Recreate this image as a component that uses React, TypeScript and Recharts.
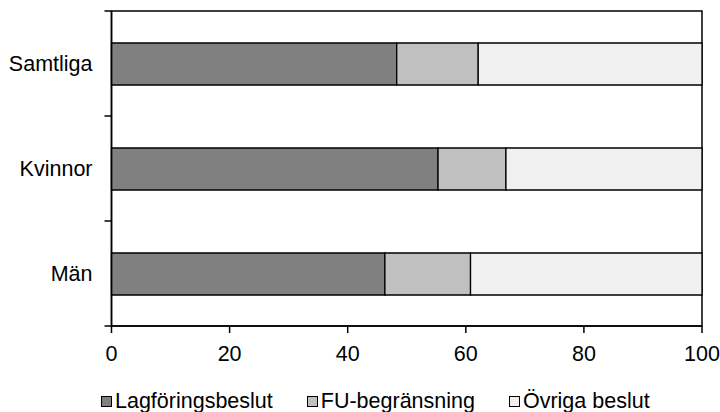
import React from "react";
import { BarChart, Bar, XAxis, YAxis, ReferenceArea } from "recharts";

const categories = ["Samtliga", "Kvinnor", "Män"];
const lagforing = [48.3, 55.3, 46.3];
const fuBegransning = [13.8, 11.5, 14.5];
const ovriga = [37.9, 33.2, 39.2];
const seriesNames = ["Lagföringsbeslut", "FU-begränsning", "Övriga beslut"];
const seriesColors = ["#808080", "#c0c0c0", "#f0f0f0"];
const xTicks = [0, 20, 40, 60, 80, 100];

const data = categories.map((name, i) => ({
  name,
  a: lagforing[i],
  b: fuBegransning[i],
  c: ovriga[i],
}));

const FONT = "'Liberation Sans', Arial, sans-serif";
const FS = 21.5;
const Y_TICK_SIZE = 7;
const Y_TICK_MARGIN = 12;

function CategoryTick(props: any) {
  const { x, y, payload, index, visibleTicksCount } = props;
  const axisX = x + Y_TICK_SIZE + Y_TICK_MARGIN;
  const half = payload && payload.offset ? payload.offset : 0;
  const isLast = index === (visibleTicksCount ?? categories.length) - 1;
  return (
    <g>
      <line
        x1={axisX - Y_TICK_SIZE}
        x2={axisX}
        y1={y - half}
        y2={y - half}
        stroke="#000"
        strokeWidth={1.5}
      />
      {isLast && (
        <line
          x1={axisX - Y_TICK_SIZE}
          x2={axisX}
          y1={y + half}
          y2={y + half}
          stroke="#000"
          strokeWidth={1.5}
        />
      )}
      <text
        x={x}
        y={y}
        dy="0.355em"
        textAnchor="end"
        fill="#000"
        fontSize={FS}
        fontFamily={FONT}
      >
        {payload.value}
      </text>
    </g>
  );
}

export default function App() {
  return (
    <div
      style={{
        position: "absolute",
        left: 0,
        top: 0,
        width: 720,
        height: 412,
        background: "#fff",
        fontFamily: FONT,
      }}
    >
      <BarChart
        width={720}
        height={412}
        data={data}
        layout="vertical"
        margin={{ top: 11, right: 18, bottom: 46, left: 0 }}
      >
        <XAxis
          xAxisId="bottom"
          type="number"
          domain={[0, 100]}
          ticks={xTicks}
          interval={0}
          height={40}
          tickSize={7}
          tickMargin={13}
          axisLine={{ stroke: "#000", strokeWidth: 1.5 }}
          tickLine={{ stroke: "#000", strokeWidth: 1.5 }}
          tick={{ fill: "#000", fontSize: FS, fontFamily: FONT }}
        />
        <YAxis
          yAxisId="cat"
          type="category"
          dataKey="name"
          width={111.5}
          tickSize={Y_TICK_SIZE}
          tickMargin={Y_TICK_MARGIN}
          interval={0}
          tickLine={false}
          axisLine={{ stroke: "#000", strokeWidth: 1.5 }}
          tick={<CategoryTick />}
        />
        <ReferenceArea
          xAxisId="bottom"
          yAxisId="cat"
          x1={0}
          x2={100}
          fill="none"
          fillOpacity={0}
          stroke="#000"
          strokeWidth={1.5}
          ifOverflow="visible"
        />
        <Bar
          xAxisId="bottom"
          yAxisId="cat"
          dataKey="a"
          name={seriesNames[0]}
          stackId="s"
          fill={seriesColors[0]}
          stroke="#000"
          strokeWidth={1.3}
          barSize={42}
          isAnimationActive={false}
        />
        <Bar
          xAxisId="bottom"
          yAxisId="cat"
          dataKey="b"
          name={seriesNames[1]}
          stackId="s"
          fill={seriesColors[1]}
          stroke="#000"
          strokeWidth={1.3}
          barSize={42}
          isAnimationActive={false}
        />
        <Bar
          xAxisId="bottom"
          yAxisId="cat"
          dataKey="c"
          name={seriesNames[2]}
          stackId="s"
          fill={seriesColors[2]}
          stroke="#000"
          strokeWidth={1.3}
          barSize={42}
          isAnimationActive={false}
        />
      </BarChart>
      <div
        style={{
          position: "absolute",
          left: 101,
          top: 389,
          display: "flex",
          alignItems: "center",
          fontSize: FS,
          fontFamily: FONT,
          color: "#000",
          lineHeight: "24px",
          whiteSpace: "nowrap",
        }}
      >
        {seriesNames.map((n, i) => (
          <div
            key={n}
            style={{ display: "flex", alignItems: "center", marginRight: 34 }}
          >
            <span
              style={{
                display: "inline-block",
                width: 9,
                height: 9,
                background: seriesColors[i],
                border: "1.5px solid #000",
                marginRight: 3,
              }}
            />
            <span>{n}</span>
          </div>
        ))}
      </div>
    </div>
  );
}
